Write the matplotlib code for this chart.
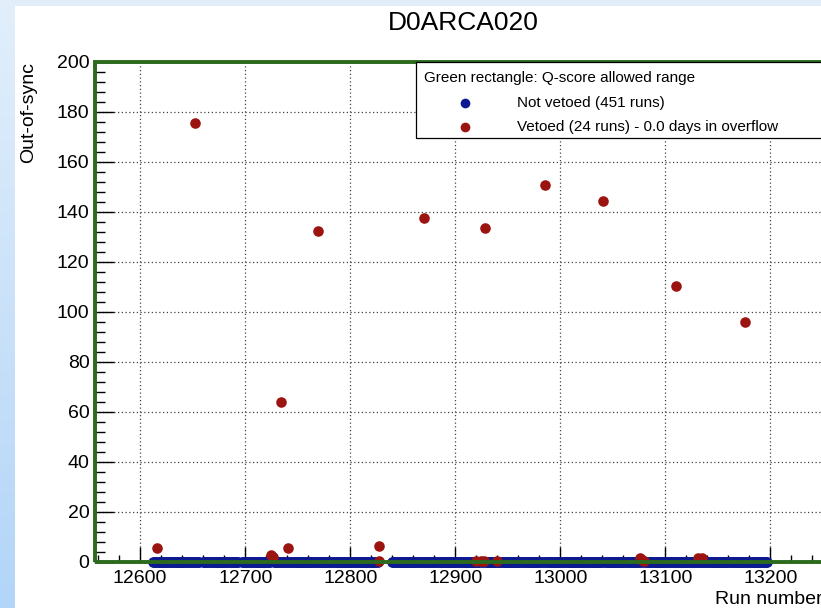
import numpy as np
import matplotlib.pyplot as plt
from matplotlib.patches import Rectangle
from matplotlib.colors import LinearSegmentedColormap
from matplotlib.ticker import MultipleLocator

# runs vetoed (run number, out-of-sync)
veto_run = [12616, 12652, 12725, 12726, 12734, 12741, 12769, 12827, 12827, 12870,
            12920, 12924, 12927, 12928, 12940, 12985, 13041, 13076, 13078, 13080,
            13110, 13131, 13135, 13176]
veto_val = [5.5, 175.5, 3.0, 2.0, 64.0, 5.5, 132.5, 6.5, 0.5, 137.8,
            0.5, 0.5, 0.5, 133.6, 0.5, 150.8, 144.6, 1.5, 1.0, 0.5,
            110.6, 1.5, 1.5, 96.0]

# runs not vetoed: contiguous stretches of run numbers, all at ~0
ok_ranges = [(12612, 12656), (12660, 12693), (12697, 12827), (12840, 13197)]

title = "D0ARCA020"
W, H = 821, 608

ok_run = np.concatenate([np.arange(a, b + 1) for a, b in ok_ranges])
ok_run = ok_run[~np.isin(ok_run, veto_run)]
ok_val = np.zeros(len(ok_run))

red, blue, green = "#9c1410", "#0c1a92", "#2c6a1d"

plt.rcParams.update({"font.family": "Liberation Sans", "font.size": 14})

fig = plt.figure(figsize=(W / 100, H / 100), dpi=100, facecolor="#e1eefa")

# left gradient strip + white page
bg = fig.add_axes([0, 0, 14 / W, 1])
cmap = LinearSegmentedColormap.from_list("bg", ["#e2effb", "#b3d5f7"])
bg.imshow(np.linspace(0, 1, 100)[:, None], aspect="auto", cmap=cmap)
bg.axis("off")
fig.patches.append(Rectangle((14 / W, 0), 1, 1 - 6 / H, transform=fig.transFigure,
                             facecolor="white", edgecolor="none", zorder=-1))

ax = fig.add_axes([95 / W, 46 / H, 728 / W, 500 / H])
ax.set_facecolor("white")
ax.set_xlim(12557, 13250)
ax.set_ylim(0, 200)

ax.xaxis.set_major_locator(MultipleLocator(100))
ax.xaxis.set_minor_locator(MultipleLocator(20))
ax.yaxis.set_major_locator(MultipleLocator(20))
ax.yaxis.set_minor_locator(MultipleLocator(4))
ax.tick_params(axis="both", which="both", direction="in", width=1, color="black",
               labelsize=14)
ax.tick_params(axis="x", which="major", length=11, pad=6)
ax.tick_params(axis="x", which="minor", length=5)
ax.tick_params(axis="y", which="major", length=14, pad=4)
ax.tick_params(axis="y", which="minor", length=7)
ax.grid(True, which="major", color="#444444", linestyle=(0, (1, 2)), linewidth=0.9)
ax.set_axisbelow(True)
for s in ax.spines.values():
    s.set_linewidth(1)

ax.scatter(ok_run, ok_val, s=58, color=blue, linewidths=0, zorder=3, clip_on=False)
ax.scatter(veto_run, veto_val, s=58, color=red, linewidths=0, zorder=4, clip_on=False)

# green rectangle: Q-score allowed range
ax.add_patch(Rectangle((12557, 0), 13250 - 12557, 200, fill=False, edgecolor=green,
                       linewidth=2.8, zorder=5, clip_on=False))

ax.set_ylabel("Out-of-sync", loc="top", labelpad=14)
ax.set_xlabel("Run number", loc="right", labelpad=3)

fig.text(463 / W, 1 - 23 / H, title, ha="center", va="center", fontsize=19)

# legend box
def fp(x, y):
    return x / W, 1 - y / H

ax.add_patch(Rectangle(fp(416, 138), 430 / W, 76 / H, transform=fig.transFigure,
                       facecolor="white", edgecolor="black", linewidth=0.9,
                       zorder=6, clip_on=False))
fig.text(*fp(424, 78), "Green rectangle: Q-score allowed range", fontsize=11,
         va="center", zorder=7)
fig.text(*fp(517, 103), "Not vetoed (451 runs)", fontsize=11, va="center", zorder=7)
fig.text(*fp(517, 127), "Vetoed (24 runs) - 0.0 days in overflow", fontsize=11,
         va="center", zorder=7)
ax.plot(*fp(465, 103), "o", color=blue, markersize=7, markeredgewidth=0,
        transform=fig.transFigure, zorder=7, clip_on=False)
ax.plot(*fp(465, 127), "o", color=red, markersize=7, markeredgewidth=0,
        transform=fig.transFigure, zorder=7, clip_on=False)

plt.savefig("out.png", dpi=100)
